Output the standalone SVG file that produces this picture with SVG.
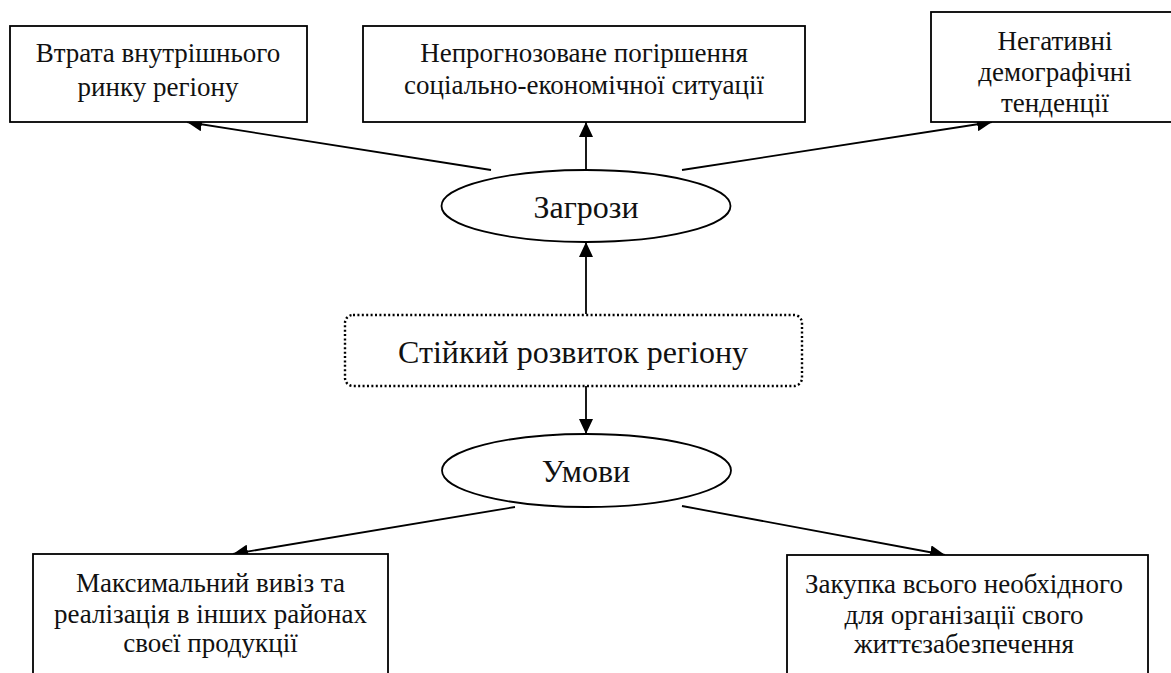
<svg xmlns="http://www.w3.org/2000/svg" width="1171" height="673" viewBox="0 0 1171 673">
<style>
.box{fill:#fff;stroke:#000;stroke-width:1.8}
.ell{fill:#fff;stroke:#000;stroke-width:1.8}
.dot{fill:#fff;stroke:#000;stroke-width:2.4;stroke-dasharray:2 2.4}
.t{font-family:'Liberation Serif','Tinos','Noto Serif','DejaVu Serif',serif;font-size:27px;fill:#111;text-anchor:middle}
.big{font-size:32px}
.con{stroke:#000;stroke-width:1.8;fill:none;marker-end:url(#ah)}
</style>
<defs>
<marker id="ah" markerUnits="userSpaceOnUse" markerWidth="15" markerHeight="14" refX="15" refY="7" orient="auto">
<path d="M0,0 L15,7 L0,14 z" fill="#000"/>
</marker>
</defs>
<rect width="1171" height="673" fill="#fff"/>
<g id="connectors">
<line class="con" x1="491" y1="170" x2="187" y2="122"/>
<line class="con" x1="586" y1="170" x2="586" y2="122"/>
<line class="con" x1="682" y1="170" x2="992" y2="122"/>
<line class="con" x1="586" y1="314" x2="586" y2="242"/>
<line class="con" x1="586" y1="386" x2="586" y2="434"/>
<line class="con" x1="515" y1="507" x2="233" y2="554"/>
<line class="con" x1="682" y1="506" x2="945" y2="555"/>
</g>
<g id="n1">
<rect class="box" x="10" y="26" width="297" height="96"/>
<text class="t" x="158" y="62">Втрата внутрішнього</text>
<text class="t" x="158" y="96">ринку регіону</text>
</g>
<g id="n2">
<rect class="box" x="363" y="26" width="442" height="96"/>
<text class="t" x="584" y="62">Непрогнозоване погіршення</text>
<text class="t" x="584" y="94">соціально-економічної ситуації</text>
</g>
<g id="n3">
<rect class="box" x="931" y="12" width="250" height="110"/>
<text class="t" x="1055" y="50">Негативні</text>
<text class="t" x="1055" y="81">демографічні</text>
<text class="t" x="1055" y="112">тенденції</text>
</g>
<g id="n4">
<ellipse class="ell" cx="586" cy="206" rx="144.5" ry="36"/>
<text class="t big" x="586" y="218">Загрози</text>
</g>
<g id="n5">
<rect class="dot" x="345" y="315" width="457" height="71" rx="8" ry="8"/>
<text class="t big" x="573" y="363">Стійкий розвиток регіону</text>
</g>
<g id="n6">
<ellipse class="ell" cx="586.5" cy="470.5" rx="144.5" ry="36.5"/>
<text class="t big" x="586" y="482">Умови</text>
</g>
<g id="n7">
<rect class="box" x="33" y="554" width="355" height="140"/>
<text class="t" x="210.5" y="592">Максимальний вивіз та</text>
<text class="t" x="210.5" y="623">реалізація в інших районах</text>
<text class="t" x="210.5" y="652">своєї продукції</text>
</g>
<g id="n8">
<rect class="box" x="787" y="555" width="361" height="140"/>
<text class="t" x="964" y="593">Закупка всього необхідного</text>
<text class="t" x="964" y="624">для організації свого</text>
<text class="t" x="964" y="653">життєзабезпечення</text>
</g>
</svg>
